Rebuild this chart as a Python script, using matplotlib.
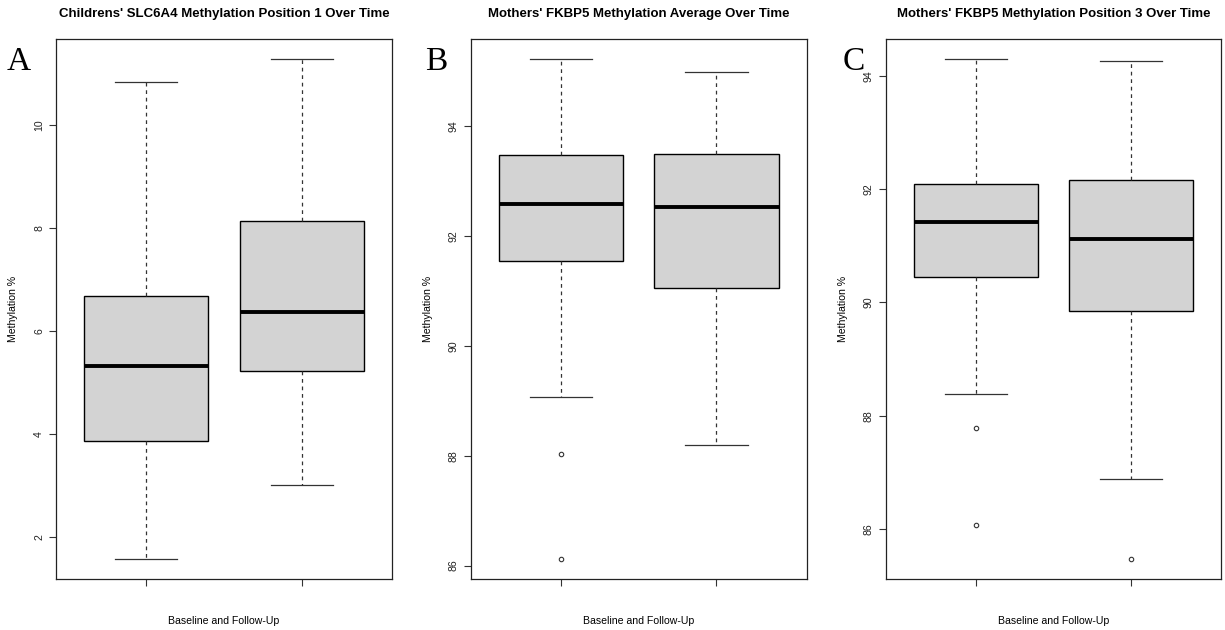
import numpy as np
import matplotlib
matplotlib.use("Agg")
import matplotlib.pyplot as plt

plt.rcParams['font.family'] = ['Liberation Sans', 'DejaVu Sans']

# values (Baseline, Follow-Up)
titles = ["Childrens' SLC6A4 Methylation Position 1 Over Time",
          "Mothers' FKBP5 Methylation Average Over Time",
          "Mothers' FKBP5 Methylation Position 3 Over Time"]
letters = ["A", "B", "C"]

a_whislo = [1.57, 3.01]
a_q1 = [3.87, 5.22]
a_med = [5.31, 6.36]
a_q3 = [6.67, 8.14]
a_whishi = [10.83, 11.28]
a_fliers = [[], []]

b_whislo = [89.06, 88.20]
b_q1 = [91.55, 91.06]
b_med = [92.59, 92.53]
b_q3 = [93.47, 93.50]
b_whishi = [95.22, 94.99]
b_fliers = [[88.03, 86.12], []]

c_whislo = [88.39, 86.88]
c_q1 = [90.45, 89.85]
c_med = [91.43, 91.13]
c_q3 = [92.10, 92.17]
c_whishi = [94.30, 94.27]
c_fliers = [[87.78, 86.07], [85.47]]

yticks = [[2, 4, 6, 8, 10], [86, 88, 90, 92, 94], [86, 88, 90, 92, 94]]

panels = [(a_whislo, a_q1, a_med, a_q3, a_whishi, a_fliers),
          (b_whislo, b_q1, b_med, b_q3, b_whishi, b_fliers),
          (c_whislo, c_q1, c_med, c_q3, c_whishi, c_fliers)]

W, H = 1225, 630
fig = plt.figure(figsize=(W / 100, H / 100), dpi=100)

lefts = [56, 470.7, 885.7]
widths = [336, 336, 335.3]
top, bottom = 39, 579
letter_x = [7, 425, 843]
small = 7.6

for i, (wlo, q1, med, q3, whi, fl) in enumerate(panels):
    ax = fig.add_axes([lefts[i] / W, 1 - bottom / H, widths[i] / W, (bottom - top) / H])
    stats = []
    for j in range(2):
        stats.append(dict(whislo=wlo[j], q1=q1[j], med=med[j], q3=q3[j],
                          whishi=whi[j], fliers=fl[j]))
    ax.bxp(stats, positions=[1, 2], widths=0.8, patch_artist=True,
           boxprops=dict(facecolor='#d3d3d3', edgecolor='black', linewidth=1.0),
           medianprops=dict(color='black', linewidth=2.8, solid_capstyle='butt'),
           whiskerprops=dict(color='#333333', linewidth=0.9, linestyle=(0, (3, 3))),
           capprops=dict(color='#333333', linewidth=0.9),
           capwidths=0.4,
           flierprops=dict(marker='o', markersize=3.2, markerfacecolor='none',
                           markeredgecolor='#333333', markeredgewidth=0.8))

    lo = min(min(wlo), min([v for f in fl for v in f], default=min(wlo)))
    hi = max(whi)
    rng = hi - lo
    ax.set_ylim(lo - 0.04 * rng, hi + 0.04 * rng)
    ax.set_xlim(0.42, 2.58)

    ax.set_xticks([1, 2])
    ax.set_xticklabels(['', ''])
    ax.set_yticks(yticks[i])
    ax.set_yticklabels([str(t) for t in yticks[i]], rotation=90, va='center',
                       fontsize=small, color='#222222')
    ax.tick_params(axis='both', length=5, width=0.8, color='#333333', pad=3.5)
    for s in ax.spines.values():
        s.set_linewidth(0.9)
        s.set_color('#222222')

    ax.set_ylabel('Methylation %', fontsize=small, va='center')
    ax.yaxis.set_label_coords(-43 / widths[i], 0.5)
    ax.set_xlabel('Baseline and Follow-Up', fontsize=small, va='center')
    ax.xaxis.set_label_coords(0.5, -42 / (bottom - top))

    ax.text(0.5, 1 + 25 / (bottom - top), titles[i], transform=ax.transAxes,
            ha='center', va='center', fontsize=9.5, fontweight='bold')

    fig.text(letter_x[i] / W, 1 - 70 / H, letters[i], ha='left', va='baseline',
             fontsize=24, family='Liberation Serif')

fig.savefig('out.png', dpi=100)
